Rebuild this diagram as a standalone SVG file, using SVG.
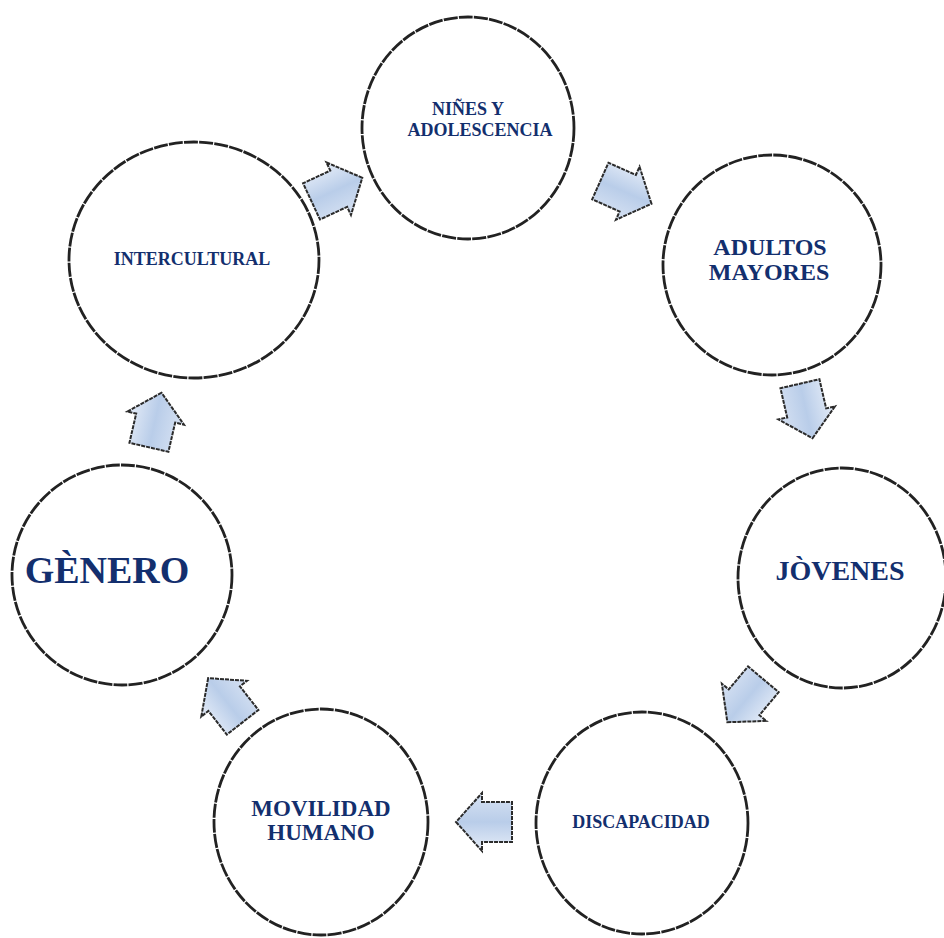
<svg xmlns="http://www.w3.org/2000/svg" width="944" height="938" viewBox="0 0 944 938">
<defs>
<linearGradient id="ag" x1="0" y1="0" x2="0" y2="1">
<stop offset="0" stop-color="#e6edf8"/>
<stop offset="0.5" stop-color="#b9cde9"/>
<stop offset="1" stop-color="#d7e2f3"/>
</linearGradient>
<path id="arr" d="M29,0 L3,-29 L3,-20 L-27,-20 L-27,20 L3,20 L3,29 Z"/>
<style>
.c{fill:#ffffff;stroke:#222222;stroke-width:2.8;stroke-dasharray:14 1.2}
.t{font-family:"Liberation Serif","Times New Roman",serif;font-weight:bold;fill:#132f6e;text-anchor:middle}
.a{fill:url(#ag);stroke:#2b2b2b;stroke-width:2;stroke-dasharray:4 1;stroke-linejoin:miter}
</style>
</defs>
<rect width="944" height="938" fill="#ffffff"/>
<g id="connectors">
<use href="#arr" class="a" transform="translate(336,190) rotate(-25)"/>
<use href="#arr" class="a" transform="translate(625,192) rotate(24)"/>
<use href="#arr" class="a" transform="translate(806,410) rotate(77)"/>
<use href="#arr" class="a" transform="translate(746,700) rotate(130)"/>
<use href="#arr" class="a" transform="translate(485,822) rotate(180)"/>
<use href="#arr" class="a" transform="translate(226,701) rotate(232)"/>
<use href="#arr" class="a" transform="translate(155,421) rotate(-77)"/>
</g>
<g id="ninos">
<ellipse class="c" cx="468" cy="128" rx="106" ry="111"/>
<text class="t" x="468" y="115" font-size="18">NIÑES Y</text>
<text class="t" x="480" y="136" font-size="18">ADOLESCENCIA</text>
</g>
<g id="adultos">
<ellipse class="c" cx="772" cy="265" rx="109" ry="110"/>
<text class="t" x="770" y="255" font-size="24">ADULTOS</text>
<text class="t" x="769" y="280" font-size="24">MAYORES</text>
</g>
<g id="jovenes">
<ellipse class="c" cx="842" cy="578" rx="104" ry="110"/>
<text class="t" x="840" y="580" font-size="28">JÒVENES</text>
</g>
<g id="discapacidad">
<ellipse class="c" cx="642" cy="823" rx="106" ry="111"/>
<text class="t" x="641" y="828" font-size="18">DISCAPACIDAD</text>
</g>
<g id="movilidad">
<ellipse class="c" cx="321" cy="822" rx="107" ry="113"/>
<text class="t" x="321" y="816" font-size="23">MOVILIDAD</text>
<text class="t" x="321" y="840" font-size="23">HUMANO</text>
</g>
<g id="genero">
<ellipse class="c" cx="122" cy="575" rx="110" ry="110"/>
<text class="t" x="107" y="583" font-size="38">GÈNERO</text>
</g>
<g id="intercultural">
<ellipse class="c" cx="194" cy="260" rx="125" ry="118"/>
<text class="t" x="192" y="265" font-size="18">INTERCULTURAL</text>
</g>
</svg>
